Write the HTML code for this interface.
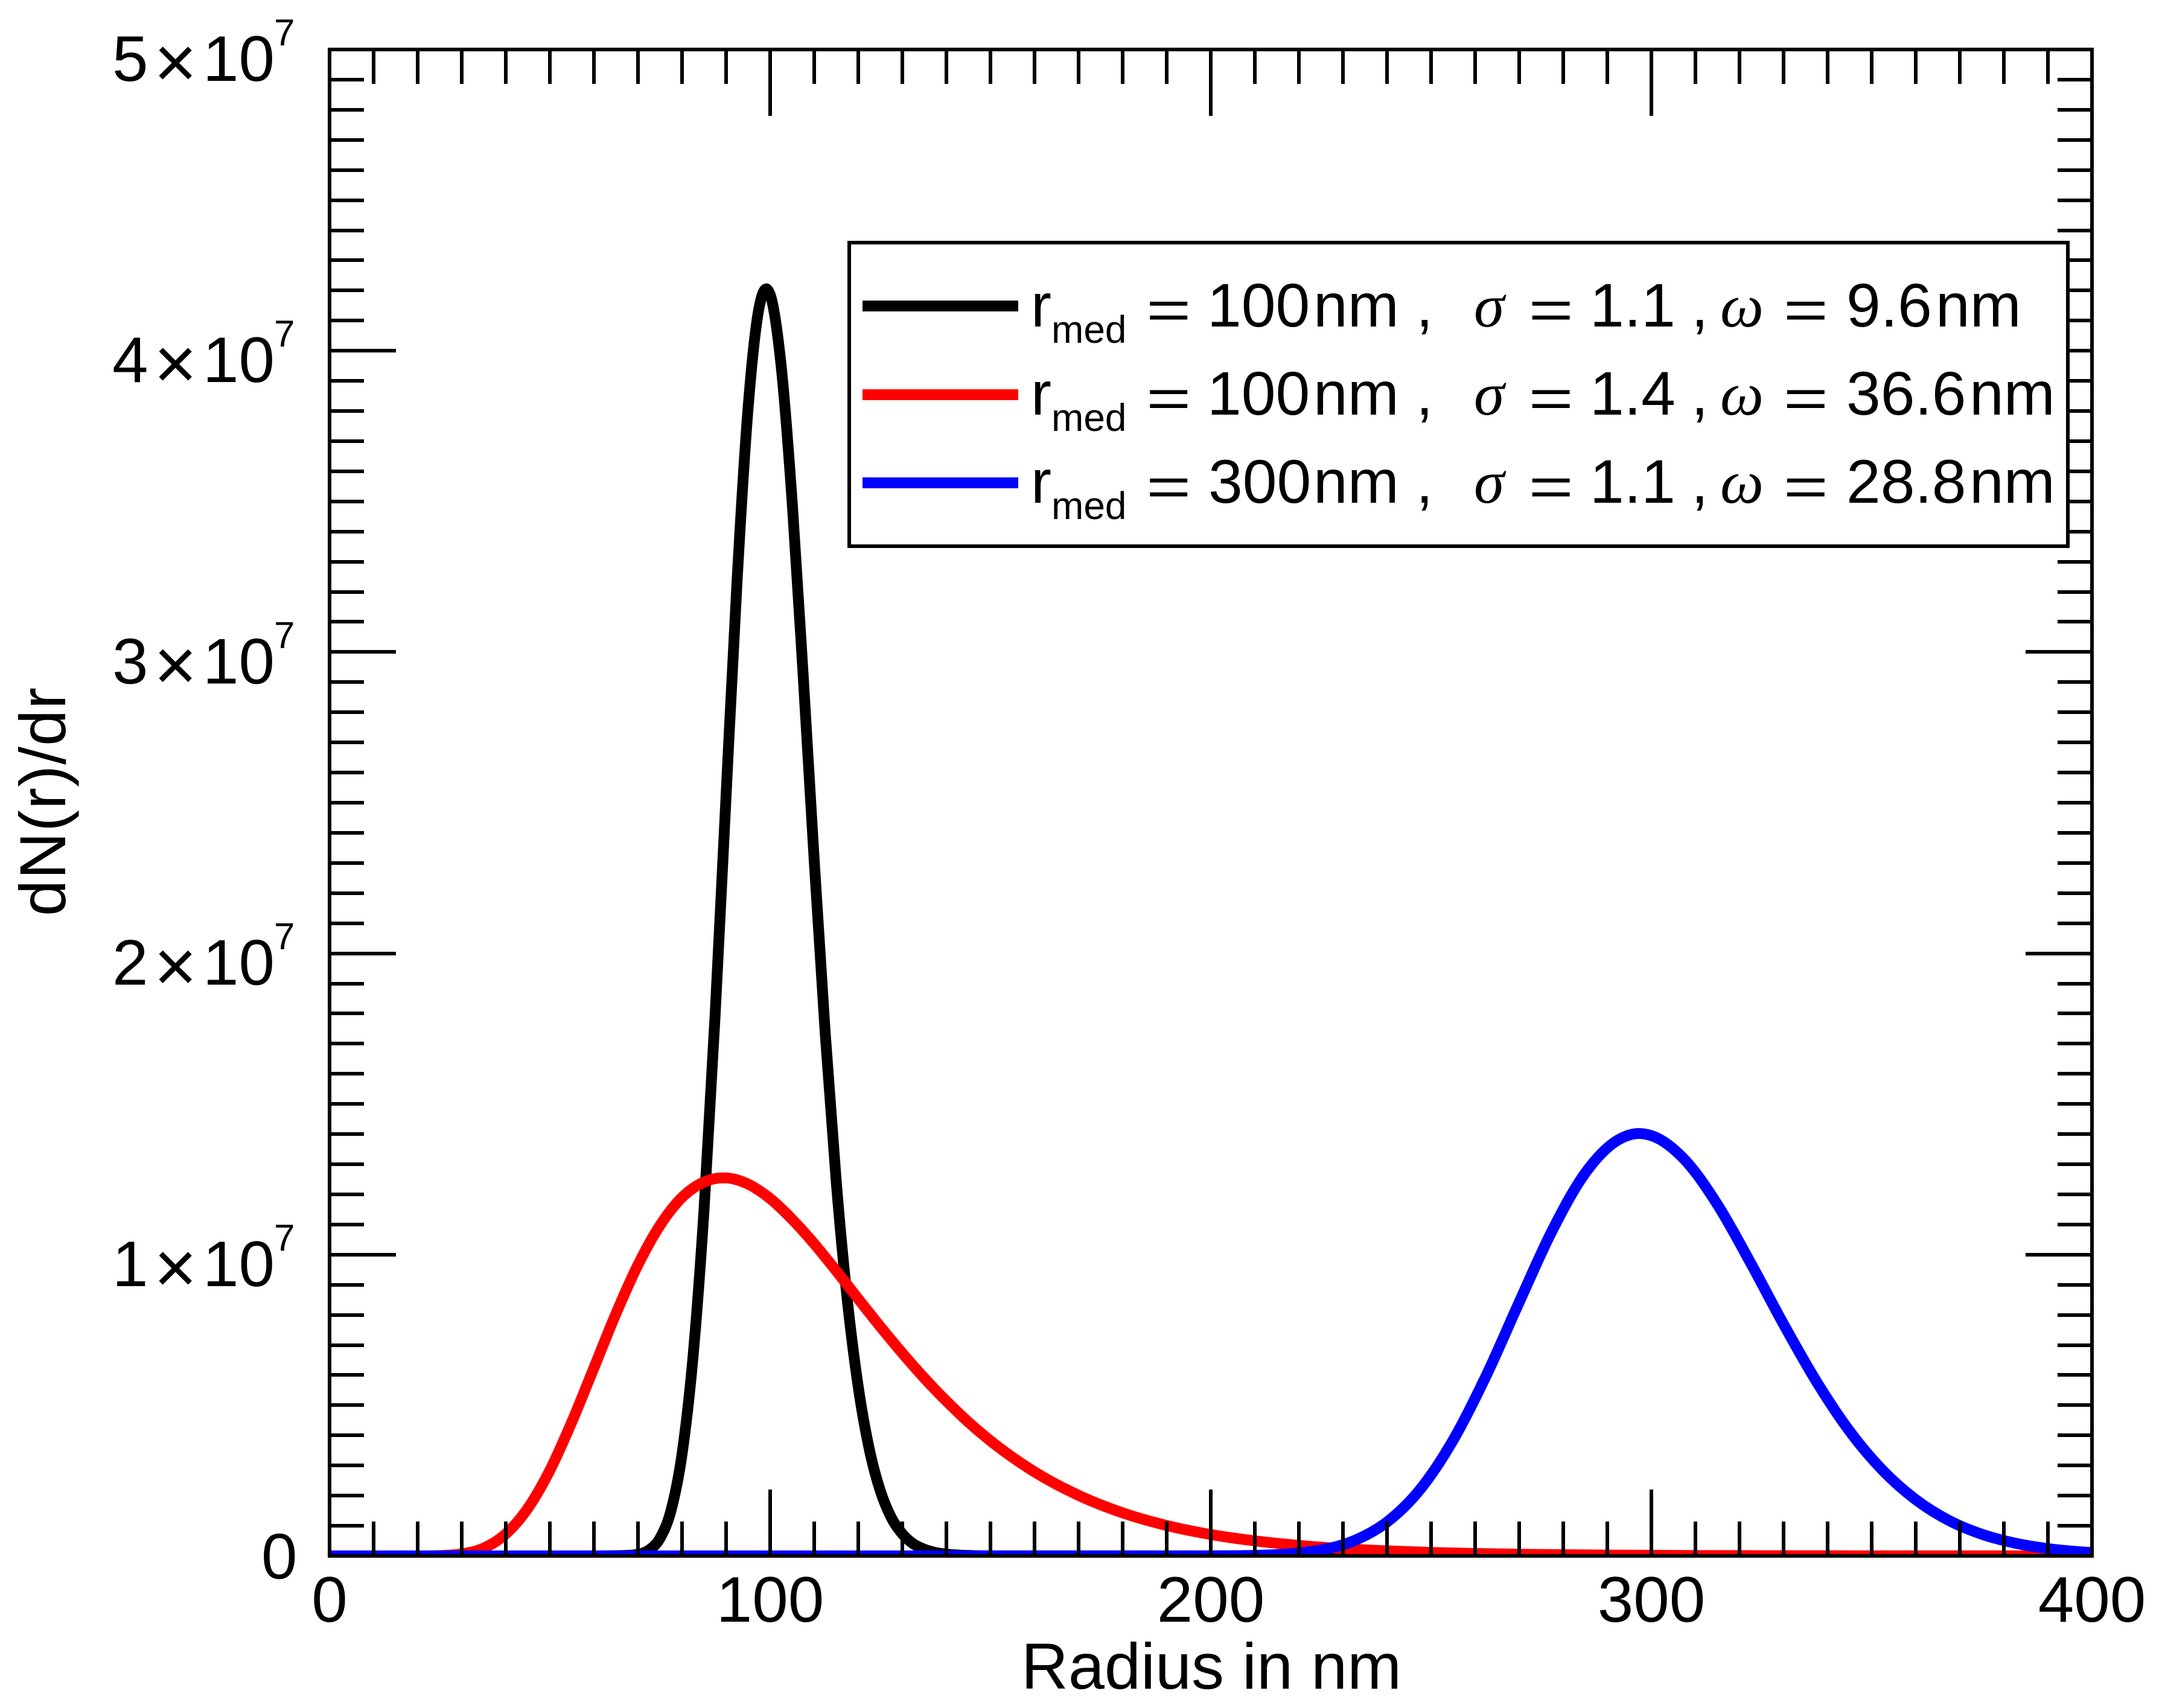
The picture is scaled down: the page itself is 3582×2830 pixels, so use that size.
<!DOCTYPE html>
<html lang="en">
<head>
<meta charset="utf-8">
<title>Log-normal size distributions</title>
<style>
  html, body { margin: 0; padding: 0; background: #fff; }
  svg { display: block; }
  text { font-family: "Liberation Sans", sans-serif; fill: #000; }
  .greek { font-family: "Liberation Serif", serif; font-style: italic; }
</style>
</head>
<body>
<svg id="chart" xmlns="http://www.w3.org/2000/svg" width="3582" height="2830" viewBox="0 0 3582 2830">
  <rect x="0" y="0" width="3582" height="2830" fill="#ffffff"/>
  <defs>
    <clipPath id="plot-clip"><rect x="546" y="82" width="2920" height="2496"/></clipPath>
  </defs>
  <g id="series-layer" clip-path="url(#plot-clip)"></g>
  <g id="axis-layer"></g>

  <g>
    <rect x="1407" y="402" width="2019" height="503" fill="#ffffff" stroke="#000000" stroke-width="6"/>
    <line x1="1429" x2="1687" y1="507" y2="507" stroke="#000000" stroke-width="18"/>
    <line x1="1429" x2="1687" y1="654" y2="654" stroke="#ff0000" stroke-width="18"/>
    <line x1="1429" x2="1687" y1="800" y2="800" stroke="#0000ff" stroke-width="18"/>

    <text font-size="102" y="541">
      <tspan x="1708" y="541">r</tspan><tspan x="1742" y="568" font-size="64">med</tspan><tspan x="2000" y="541">100</tspan><tspan x="2176" y="541">nm</tspan><tspan x="2346" y="541">,</tspan><tspan class="greek" x="2442" y="541">σ</tspan><tspan x="2634" y="541">1.1</tspan><tspan x="2802" y="541">,</tspan><tspan class="greek" x="2850" y="541">ω</tspan><tspan x="3059" y="541">9.6</tspan><tspan x="3207" y="541">nm</tspan>
    </text>
    <text font-size="102" transform="translate(1899 545) scale(1.25 0.9)">=</text>
    <text font-size="102" transform="translate(2532.5 545) scale(1.25 0.9)">=</text>
    <text font-size="102" transform="translate(2954.6 545) scale(1.25 0.9)">=</text>

    <text font-size="102" y="687">
      <tspan x="1708" y="687">r</tspan><tspan x="1742" y="714" font-size="64">med</tspan><tspan x="2000" y="687">100</tspan><tspan x="2176" y="687">nm</tspan><tspan x="2346" y="687">,</tspan><tspan class="greek" x="2442" y="687">σ</tspan><tspan x="2634" y="687">1.4</tspan><tspan x="2802" y="687">,</tspan><tspan class="greek" x="2850" y="687">ω</tspan><tspan x="3059" y="687">36.6</tspan><tspan x="3263" y="687">nm</tspan>
    </text>
    <text font-size="102" transform="translate(1899 691.5) scale(1.25 0.9)">=</text>
    <text font-size="102" transform="translate(2532.5 691.5) scale(1.25 0.9)">=</text>
    <text font-size="102" transform="translate(2954.6 691.5) scale(1.25 0.9)">=</text>

    <text font-size="102" y="833">
      <tspan x="1708" y="833">r</tspan><tspan x="1742" y="860" font-size="64">med</tspan><tspan x="2002" y="833">300</tspan><tspan x="2176" y="833">nm</tspan><tspan x="2346" y="833">,</tspan><tspan class="greek" x="2442" y="833">σ</tspan><tspan x="2634" y="833">1.1</tspan><tspan x="2802" y="833">,</tspan><tspan class="greek" x="2850" y="833">ω</tspan><tspan x="3059" y="833">28.8</tspan><tspan x="3263" y="833">nm</tspan>
    </text>
    <text font-size="102" transform="translate(1899 838) scale(1.25 0.9)">=</text>
    <text font-size="102" transform="translate(2532.5 838) scale(1.25 0.9)">=</text>
    <text font-size="102" transform="translate(2954.6 838) scale(1.25 0.9)">=</text>
  </g>

  <text x="2007" y="2798" font-size="108" text-anchor="middle">Radius in nm</text>
  <text transform="translate(108 1328) rotate(-90)" x="0" y="0" font-size="108" text-anchor="middle" letter-spacing="1">dN(r)/dr</text>
</svg>

<script>
// Radius in nm, dN/dr in units of 1e7.
const blackRadius = [0,50,60,65,70,72.5,75,77.5,80,82.5,85,87.5,90,92.5,95,97.5,99,100,102.5,105,107.5,110,112.5,115,117.5,120,122.5,125,127.5,130,132.5,135,137.5,140,145,150,400];
const blackValues = [0,0,0.0001,0.0008,0.0054,0.0195,0.0587,0.151,0.338,0.662,1.151,1.793,2.525,3.239,3.812,4.144,4.205,4.186,3.949,3.497,2.92,2.308,1.734,1.242,0.851,0.56,0.354,0.216,0.127,0.073,0.04,0.022,0.0115,0.0059,0.0014,0.0003,0];

const redRadius = [0,20,25,30,35,40,45,50,55,60,65,70,75,80,85,89,90,95,100,105,110,115,120,125,130,135,140,145,150,160,170,180,190,200,210,220,230,240,250,260,270,280,300,320,350,400];
const redValues = [0,0.0001,0.001,0.0066,0.026,0.073,0.158,0.284,0.445,0.624,0.804,0.966,1.097,1.19,1.241,1.2547,1.2545,1.234,1.186,1.117,1.036,0.946,0.853,0.761,0.673,0.59,0.514,0.444,0.382,0.279,0.201,0.143,0.101,0.071,0.05,0.035,0.024,0.0167,0.0116,0.0081,0.0056,0.0039,0.0019,0.0009,0.0003,0.0001];

const blueRadius = [0,150,195,210,217.5,225,232.5,240,247.5,255,262.5,270,277.5,285,292.5,297,300,307.5,315,322.5,330,337.5,345,352.5,360,367.5,375,382.5,390,397.5,400];
const blueValues = [0,0,0.0001,0.0018,0.0065,0.0196,0.0504,0.1125,0.2205,0.384,0.598,0.842,1.08,1.271,1.381,1.402,1.395,1.316,1.166,0.973,0.769,0.578,0.414,0.284,0.187,0.118,0.072,0.0425,0.0243,0.0135,0.011];

const xMajorTicks = [0,100,200,300,400];
const xTickLabels = ["0","100","200","300","400"];
const yMajorTicks = [0,1,2,3,4,5];
const yTickMantissas = ["0","1","2","3","4","5"];
const yTickExponent = "7";

const NS = 'http://www.w3.org/2000/svg';
const seriesLayer = document.getElementById('series-layer');
const axisLayer = document.getElementById('axis-layer');

const plotLeft = 546, plotRight = 3466, plotTop = 82, plotBottom = 2578;
const xMin = 0, xMax = 400, yMin = 0, yMax = 5;
function xScale(v) { return plotLeft + (v - xMin) / (xMax - xMin) * (plotRight - plotLeft); }
function yScale(v) { return plotBottom - (v - yMin) / (yMax - yMin) * (plotBottom - plotTop); }

// Smooth cubic path through the data points, with three-point tangents (no extra data invented).
function curvePath(rs, vs) {
  const px = rs.map(xScale), py = vs.map(yScale), n = px.length;
  const d = [], m = new Array(n);
  for (let i = 0; i < n - 1; i++) d[i] = (py[i + 1] - py[i]) / (px[i + 1] - px[i]);
  m[0] = d[0]; m[n - 1] = d[n - 2];
  for (let i = 1; i < n - 1; i++) {
    const h0 = px[i] - px[i - 1], h1 = px[i + 1] - px[i];
    const p = (d[i - 1] * h1 + d[i] * h0) / (h0 + h1);
    const prod = d[i - 1] * d[i];
    if (prod < 0) { m[i] = p; }
    else if (prod === 0) { m[i] = 0; }
    else {
      const lim = 3 * Math.min(Math.abs(d[i - 1]), Math.abs(d[i]));
      m[i] = Math.sign(p) * Math.min(Math.abs(p), lim);
    }
  }
  let out = 'M' + px[0].toFixed(2) + ' ' + py[0].toFixed(2);
  for (let i = 0; i < n - 1; i++) {
    const h = (px[i + 1] - px[i]) / 3;
    out += 'C' + (px[i] + h).toFixed(2) + ' ' + (py[i] + m[i] * h).toFixed(2) + ' ' +
      (px[i + 1] - h).toFixed(2) + ' ' + (py[i + 1] - m[i + 1] * h).toFixed(2) + ' ' +
      px[i + 1].toFixed(2) + ' ' + py[i + 1].toFixed(2);
  }
  return out;
}

function addCurve(rs, vs, color) {
  const p = document.createElementNS(NS, 'path');
  p.setAttribute('d', curvePath(rs, vs));
  p.setAttribute('fill', 'none');
  p.setAttribute('stroke', color);
  p.setAttribute('stroke-width', '18');
  p.setAttribute('stroke-linejoin', 'round');
  seriesLayer.appendChild(p);
  return p;
}

const blackCurve = addCurve(blackRadius, blackValues, '#000000');


const redCurve = addCurve(redRadius, redValues, '#ff0000');


const blueCurve = addCurve(blueRadius, blueValues, '#0000ff');



function addLine(x1, y1, x2, y2, w) {
  const l = document.createElementNS(NS, 'line');
  l.setAttribute('x1', Math.round(x1));
  l.setAttribute('y1', Math.round(y1));
  l.setAttribute('x2', Math.round(x2));
  l.setAttribute('y2', Math.round(y2));
  l.setAttribute('stroke', '#000000');
  l.setAttribute('stroke-width', w);
  axisLayer.appendChild(l);
  return l;
}

const minorLen = 57, majorLen = 110, tickW = 6;

// X ticks, bottom and top, every 10 nm
for (let v = xMin; v <= xMax; v += 10) {
  if (v === xMin || v === xMax) continue;
  const len = xMajorTicks.includes(v) ? majorLen : minorLen;
  const b = addLine(xScale(v), plotBottom, xScale(v), plotBottom - len, tickW);
  
  
  const t = addLine(xScale(v), plotTop, xScale(v), plotTop + len, tickW);
  
  
}

// Y ticks, left and right, every 0.1e7
for (let i = 1; i < 50; i++) {
  const v = i / 10;
  const len = (i % 10 === 0) ? majorLen : minorLen;
  const a = addLine(plotLeft, yScale(v), plotLeft + len, yScale(v), tickW);
  
  
  const c = addLine(plotRight, yScale(v), plotRight - len, yScale(v), tickW);
  
  
}

// Frame
const frame = document.createElementNS(NS, 'rect');


frame.setAttribute('x', plotLeft);
frame.setAttribute('y', plotTop);
frame.setAttribute('width', plotRight - plotLeft);
frame.setAttribute('height', plotBottom - plotTop);
frame.setAttribute('fill', 'none');
frame.setAttribute('stroke', '#000000');
frame.setAttribute('stroke-width', '6');
axisLayer.appendChild(frame);

// X tick labels
xMajorTicks.forEach(function (v, i) {
  const t = document.createElementNS(NS, 'text');
  
  
  t.setAttribute('x', xScale(v));
  t.setAttribute('y', 2687);
  t.setAttribute('font-size', '107');
  t.setAttribute('text-anchor', 'middle');
  t.textContent = xTickLabels[i];
  axisLayer.appendChild(t);
});

// Y tick labels
function addTspan(parent, str, x, y, size) {
  const s = document.createElementNS(NS, 'tspan');
  s.setAttribute('x', x);
  s.setAttribute('y', y);
  s.setAttribute('font-size', size);
  s.textContent = str;
  parent.appendChild(s);
}
yMajorTicks.forEach(function (v, i) {
  const t = document.createElementNS(NS, 'text');
  
  
  const base = yScale(v) + 52;
  if (v === 0) {
    addTspan(t, yTickMantissas[i], 433, yScale(v) + 37.5, 107);
  } else {
    addTspan(t, yTickMantissas[i], 186, base, 107);
    addTspan(t, '×', 255, base + 11, 122);
    addTspan(t, '10', 336, base, 107);
    addTspan(t, yTickExponent, 454, base - 59, 62);
  }
  axisLayer.appendChild(t);
});
</script>
</body>
</html>
